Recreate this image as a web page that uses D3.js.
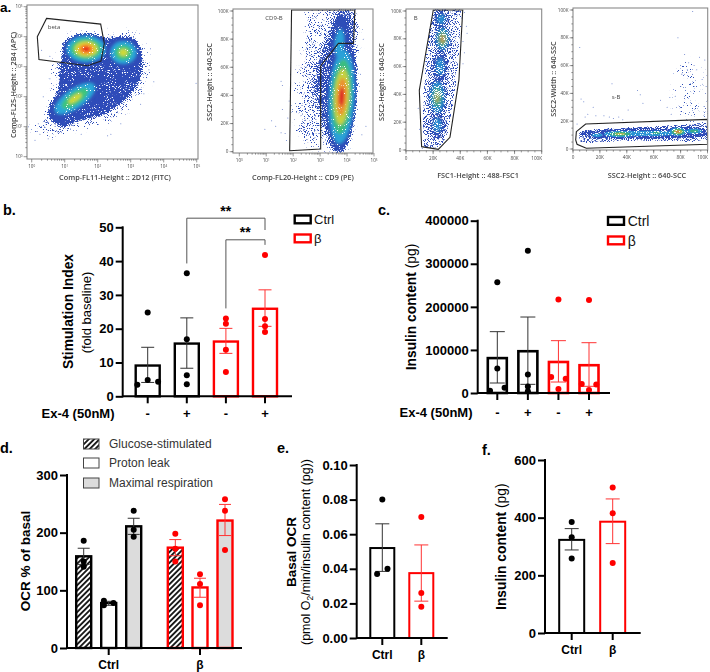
<!DOCTYPE html>
<html><head><meta charset="utf-8">
<script src="https://cdn.jsdelivr.net/npm/d3@7"></script>
<style>
html,body{margin:0;padding:0;background:#fff}
svg{display:block}
text{font-family:"Liberation Sans",Arial,sans-serif}
.flow text{font-family:"Open Sans",sans-serif;fill:#444}
</style></head><body>
<svg id="c" width="710" height="672"></svg>
<script>
// ---------- bar panel data ----------
const exLabels = ["-","+","-","+"];
const twoLabels = ["Ctrl","β"];
const groupColors4 = ["#000","#000","#f00","#f00"];

const bMeans = [9.1,15.6,16.2,25.9];
const bUpper = [14.5,23.2,20.1,31.5];
const bLower = [4.1,8.3,12.7,20.7];
const bPoints = [[24.8,4.8,3.4,4.3],[36.4,16.9,6.2,3.6],[23,21.5,13.8,7.2],[41.8,22.9,20.7,19]];
const bJitter = [[0,0,-.8,.8],[0,0,0,0],[0,0,0,0],[0,0,0,0]];

const cMeans = [81000,97000,72000,64500];
const cUpper = [142400,176400,121500,116800];
const cLower = [23200,20100,25500,15500];
const cPoints = [[257000,57000,12000,5000],[330000,43000,15000,4000],[217000,37000,33000,9000],[216000,21000,20000,7000]];
const cJitter = [[0,0,.75,-.75],[0,0,0,0],[0,-.75,.75,0],[0,-.75,.75,0]];

const dCategories = ["Ctrl","β"];
const dSeries = ["Glucose-stimulated","Proton leak","Maximal respiration"];
const dMeans = [159,78,211,174,105,221];
const dUpper = [173,81,225,188,121,249];
const dLower = [145,74,197,160,88,195];
const dPoints = [[186,150,141],[82,78,74],[238,205,193],[198,172,150],[128,111,74],[258,238,170]];
const dJitter = [[0,0,0],[-.6,.6,-.6],[0,0,0],[0,0,0],[0,0,0],[0,0,0]];

const eMeans = [.052,.0375];
const eUpper = [.066,.0538];
const eLower = [.0385,.0213];
const ePoints = [[.080,.040,.037],[.070,.026,.018]];
const eJitter = [[0,.65,-.65],[0,0,0]];

const fMeans = [323,386];
const fUpper = [362,465];
const fLower = [288,310];
const fPoints = [[385,332,258],[505,415,243]];

// ---------- flow panel data (decades of log axes / thousands on linear axes) ----------
const decades = [0,1,2,3,4,5];
const kTicks = [0,20,40,60,80,100];

const aGate = [[.45,4.61],[2.09,4.42],[2.2,3.78],[2.1,3.19],[1.69,3.03],[.22,3.24],[.17,4.0],[.3,4.28]];
const aFringe = [[.9,3.5],[1.05,4.0],[2.0,4.1],[3.15,4.1],[3.5,3.3],[3.5,2.4],[2.9,1.6],[2.2,1.05],[1.3,.95],[.7,.65],[0,.95],[.4,1.4],[.65,2.2],[.6,3.0]];
const aCloud = [[1.06,3.83],[2.07,3.94],[3.08,3.94],[3.33,3.33],[3.28,2.56],[2.83,1.89],[2.17,1.39],[1.46,1.22],[.96,1.0],[.61,1.22],[.56,1.67],[.81,2.22],[.86,3.0],[.96,3.56]];
const aBlobs = [
 {x:1.65,y:3.59,rx:.7,ry:.52,rot:0,peak:5},
 {x:2.78,y:3.47,rx:.52,ry:.5,rot:0,peak:3},
 {x:1.31,y:1.94,rx:.95,ry:.42,rot:-35,peak:3}];
const aSparse = [[-.1,1.0],[.25,.75],[.1,.55],[.5,.6],[3.6,3.6],[3.55,2.9],[3.4,2.1],[4.98,2.45],[2.3,.7],[2.4,.75],[1.5,.75],[.2,1.1],[.35,2.0],[.55,2.6],[3.7,2.5],[3.3,1.75],[2.7,1.1],[.3,3.55],[.55,3.35]];

const gateB = [[1.94,100.7],[1.87,.7],[3.02,1.9],[3.02,61],[3.68,77],[4.24,77],[4.29,100.7]];
const bFringe = [[2.55,100],[4.3,100],[4.45,77],[4.3,35],[4.05,5],[3.4,1],[2.6,5],[2.1,13],[2.05,37],[2.2,61],[2.5,85]];
const bCloud = [[3.6,100],[4.2,100],[4.28,77],[4.2,38],[3.95,8],[3.5,4],[3.05,22],[2.75,45],[2.95,65],[3.4,85]];
const bBlobs = [
 {x:3.8,y:39,rx:.56,ry:40,rot:3,peak:5},
 {x:3.72,y:77,rx:.34,ry:20,rot:5,peak:1}];
const bSparse = [[1.2,22],[1.35,18],[1.6,30],[1.7,13],[1.75,8],[1.6,47],[1.55,50],[.95,16],[1.55,13.5],[1.85,36],[1.9,55],[4.6,80],[4.7,18],[4.55,12],[4.5,55],[1.8,24]];

const gateC = [[20.1,100.7],[9.8,43],[11.5,2.4],[23.8,.5],[32.4,9.1],[39,50.4],[41.8,100.7]];
const cCloud = [[21.5,102],[14,60],[13,5],[23.8,2.4],[30,9.6],[37.3,50.4],[40,102]];
const cBlobs = [
 {x:27,y:80,rx:6,ry:10,rot:0,peak:4},
 {x:23,y:38,rx:7,ry:15,rot:0,peak:3},
 {x:25,y:60,rx:6,ry:12,rot:0,peak:1},
 {x:26,y:94,rx:6,ry:7,rot:0,peak:1},
 {x:23,y:18,rx:6,ry:10,rot:0,peak:1}];
const cSparse = [[43,99],[44.5,89],[45,84],[43,70],[42,62],[9,30],[10,15],[12,1],[41,95],[42,78]];

const gateD = [[2.5,12.5],[9.4,18],[100,21.3],[100,3.4],[9.9,.5],[3,3.4],[2,6.5]];
const dCloud = [[4.5,9.5],[12.4,14],[81.9,17.5],[100,18.5],[100,6],[44.7,6],[7.4,4.5]];
const dBlobs = [
 {x:55,y:11.2,rx:50,ry:3.8,rot:0,peak:1},
 {x:35,y:10.8,rx:16,ry:3.2,rot:0,peak:3},
 {x:62,y:11.5,rx:8,ry:2.8,rot:0,peak:2},
 {x:78,y:12.5,rx:8,ry:3.8,rot:0,peak:4},
 {x:90,y:12.8,rx:9,ry:3,rot:0,peak:2},
 {x:18,y:10,rx:8,ry:2.6,rot:0,peak:1}];
const dFringe = [[77,60],[92,62],[99,48],[100,22],[77,22]];
const dHigh = [[78,80],[89,99],[76,38],[81,54],[86,62],[83,68],[94,66],[98,64],[90,60],[80,60],[85,57],[92,57],[96,50],[99,45]];
const dSparse = [[5,73],[6,36],[8,34],[9,23],[11,25],[15,30],[17,24],[23,24],[27,23],[30,22],[34,23],[37,21],[41,28],[52,33],[48,42],[50,39],[29,47],[65,35],[70,30],[3,18],[72,37],[73,25]];

// ---------- scales & helpers ----------
const svg = d3.select("#c");
const defs = svg.append("defs");
const levels = ["#2f4db8","#2ba6da","#3cc47c","#cfd938","#f7962a","#e8201c"];
const blur = (id,s)=>defs.append("filter").attr("id",id).attr("filterUnits","userSpaceOnUse").attr("x",0).attr("y",0).attr("width",710).attr("height",200)
  .append("feGaussianBlur").attr("stdDeviation",s);
blur("b06",.7); blur("b15",1.5); blur("b03",.28); blur("b3",3); blur("b2",1.8);

// texture: thins a soft-edged density image into speckle
const spk = defs.append("filter").attr("id","speckle").attr("filterUnits","userSpaceOnUse").attr("x",0).attr("y",0).attr("width",710).attr("height",200).attr("color-interpolation-filters","sRGB");
spk.append("feTurbulence").attr("type","fractalNoise").attr("baseFrequency",1.05).attr("numOctaves",2).attr("seed",7).attr("result","n");
spk.append("feColorMatrix").attr("in","n").attr("type","matrix").attr("values","0 0 0 0 0  0 0 0 0 0  0 0 0 0 0  2 0 0 0 -.5").attr("result","na");
spk.append("feComposite").attr("in","SourceAlpha").attr("in2","na").attr("operator","arithmetic").attr("k1",0).attr("k2",1).attr("k3",1).attr("k4",-1).attr("result","sum");
const ct = spk.append("feComponentTransfer").attr("in","sum").attr("result","mask");
ct.append("feFuncA").attr("type","linear").attr("slope",7).attr("intercept",0);
const op = spk.append("feComponentTransfer").attr("in","SourceGraphic").attr("result","solid");
op.append("feFuncA").attr("type","linear").attr("slope",40).attr("intercept",0);
spk.append("feComposite").attr("in","solid").attr("in2","mask").attr("operator","in").attr("result","dots");
spk.append("feGaussianBlur").attr("in","dots").attr("stdDeviation",.42);

const hatch = defs.append("pattern").attr("id","hatch").attr("patternUnits","userSpaceOnUse").attr("width",3.8).attr("height",3.8).attr("patternTransform","rotate(-45)");
hatch.append("rect").attr("width",3.8).attr("height",3.8).attr("fill","#fff");
hatch.append("rect").attr("width",3.8).attr("height",1.9).attr("fill","#1a1a1a");

function flowPanel(o){
  const g = svg.append("g").attr("class","flow").attr("filter","url(#b03)");
  const clipId = "clip"+o.id;
  defs.append("clipPath").attr("id",clipId).append("rect").attr("x",o.rect[0]).attr("y",o.rect[1]).attr("width",o.rect[2]-o.rect[0]).attr("height",o.rect[3]-o.rect[1]);
  const X = o.X, Y = o.Y;
  const line = d3.line().x(d=>X(d[0])).y(d=>Y(d[1]));
  const smooth = line.curve(d3.curveCardinalClosed.tension(.3));
  const plot = g.append("g").attr("clip-path",`url(#${clipId})`);
  const dens = plot.append("g").attr("filter","url(#speckle)");
  if(o.fringe) dens.append("path").attr("d",smooth(o.fringe)).attr("fill",levels[0]).attr("opacity",o.fringeOp).attr("filter","url(#b3)");
  dens.append("path").attr("d",smooth(o.cloud)).attr("fill",levels[0]).attr("opacity",o.cloudOp).attr("filter",`url(#${o.cloudBlur})`);
  const hot = dens.append("g").attr("filter",`url(#${o.hotBlur||"b15"})`).attr("opacity",o.hotOp||1);
  levels.forEach((c,l)=>{
    o.blobs.filter(b=>b.peak>=l).forEach(b=>{
      const f = 1-l/(b.peak+1);
      const rx = Math.abs(X(b.x+b.rx)-X(b.x))*f, ry = Math.abs(Y(b.y+b.ry)-Y(b.y))*f;
      hot.append("ellipse").attr("cx",X(b.x)).attr("cy",Y(b.y)).attr("rx",rx).attr("ry",ry).attr("fill",c)
        .attr("transform",`rotate(${b.rot} ${X(b.x)} ${Y(b.y)})`);
    });
  });
  plot.selectAll("circle.s").data(o.sparse).join("circle").attr("class","s").attr("cx",d=>X(d[0])).attr("cy",d=>Y(d[1])).attr("r",.5).attr("fill","#5f78c8");
  // gate
  g.append("path").attr("d",line.curve(d3.curveLinearClosed)(o.gate)).attr("fill","none").attr("stroke","#222").attr("stroke-width",1.1).attr("clip-path",`url(#${clipId})`);
  // frame
  g.append("rect").attr("x",o.rect[0]).attr("y",o.rect[1]).attr("width",o.rect[2]-o.rect[0]).attr("height",o.rect[3]-o.rect[1]).attr("fill","none").attr("stroke","#8a8a8a").attr("stroke-width",1.1);
  // ticks and labels
  const tg = g.append("g").attr("stroke","#555").attr("stroke-width",.6);
  const bottom=o.rect[3], left=o.rect[0];
  o.xMinor.forEach(v=>tg.append("line").attr("x1",o.xAxis(v)).attr("x2",o.xAxis(v)).attr("y1",bottom).attr("y2",bottom+1.7));
  o.xMajor.forEach(v=>tg.append("line").attr("x1",o.xAxis(v)).attr("x2",o.xAxis(v)).attr("y1",bottom).attr("y2",bottom+3.4));
  o.yMinor.forEach(v=>tg.append("line").attr("y1",o.yAxis(v)).attr("y2",o.yAxis(v)).attr("x1",left).attr("x2",left-1.7));
  o.yMajor.forEach(v=>tg.append("line").attr("y1",o.yAxis(v)).attr("y2",o.yAxis(v)).attr("x1",left).attr("x2",left-3.4));
  const tickText=(sel,v,log)=>{
    if(log){ sel.text("10"); sel.append("tspan").attr("dy",-1.3).attr("font-size",3).text(Math.round(Math.log10(v))); }
    else sel.text(v===0?"0":(v+"K"));
  };
  o.xMajor.forEach(v=>{const t=g.append("text").attr("x",o.xAxis(v)-(!o.xLog&&v===100?5:0)).attr("y",bottom+9).attr("text-anchor","middle").attr("font-size",4.6);tickText(t,v,o.xLog);});
  o.yMajor.forEach(v=>{const t=g.append("text").attr("x",left-4.5).attr("y",o.yAxis(v)+1.6).attr("text-anchor","end").attr("font-size",4.6);tickText(t,v,o.yLog);});
  g.append("text").attr("x",o.xLabel[1]).attr("y",o.xLabel[2]).attr("text-anchor","middle").attr("font-size",7.3).attr("font-weight",600).text(o.xLabel[0]);
  g.append("text").attr("transform",`translate(${o.yLabel[1]},${o.yLabel[2]}) rotate(-90)`).attr("text-anchor","middle").attr("font-size",7.3).attr("font-weight",600).text(o.yLabel[0]);
  g.append("text").attr("x",o.tag[1]).attr("y",o.tag[2]).attr("text-anchor","middle").attr("font-size",6).attr("font-family","Liberation Sans").text(o.tag[0]);
}
const logMinor = ()=>{const a=[];for(let k=0;k<5;k++)for(let m=2;m<10;m++)a.push(m*10**k);return a;};
const linMinor = d3.range(0,101,5);
const logMajor = decades.map(d=>10**d);

// panel a.1
{ const xl=d3.scaleLog().domain([1,1e5]).range([31.7,196.7]), yl=d3.scaleLog().domain([1,1e5]).range([156.7,6.7]);
  flowPanel({id:"a",X:v=>xl(10**v),Y:v=>yl(10**v),rect:[27,5,198,159],gate:aGate,fringe:aFringe,fringeOp:.3,cloud:aCloud,cloudOp:.85,cloudBlur:"b2",blobs:aBlobs,sparse:aSparse,
    xAxis:xl,yAxis:yl,xLog:true,yLog:true,xMajor:logMajor,yMajor:logMajor,xMinor:logMinor(),yMinor:logMinor(),
    xLabel:["Comp-FL11-Height :: 2D12 (FITC)",115,180],yLabel:["Comp-FL25-Height :: 2B4 (APC)",16,85],tag:["beta",54,29]});
}
// panel a.2
{ const xl=d3.scaleLog().domain([1,1e5]).range([239.3,374]), yk=d3.scaleLinear().domain([0,100]).range([151.7,11]);
  flowPanel({id:"b",X:v=>xl(10**v),Y:yk,rect:[233,9,373,153],gate:gateB,fringe:bFringe,fringeOp:.34,cloud:bCloud,cloudOp:.6,cloudBlur:"b3",blobs:bBlobs,sparse:bSparse,hotBlur:"b15",hotOp:.92,
    xAxis:xl,yAxis:yk,xLog:true,yLog:false,xMajor:logMajor,yMajor:kTicks,xMinor:logMinor(),yMinor:linMinor,
    xLabel:["Comp-FL20-Height :: CD9 (PE)",303,180],yLabel:["SSC2-Height :: 640-SSC",212,82],tag:["CD9-B",274,20]});
}
// panel a.3
{ const xk=d3.scaleLinear().domain([0,100]).range([406,541.7]), yk=d3.scaleLinear().domain([0,100]).range([150,11]);
  flowPanel({id:"c",X:xk,Y:yk,rect:[406,9,541.7,150.7],gate:gateC,cloud:cCloud,cloudOp:.42,cloudBlur:"b06",blobs:cBlobs,sparse:cSparse,hotBlur:"b15",hotOp:.5,
    xAxis:xk,yAxis:yk,xLog:false,yLog:false,xMajor:kTicks,yMajor:kTicks,xMinor:linMinor,yMinor:linMinor,
    xLabel:["FSC1-Height :: 488-FSC1",478,178],yLabel:["SSC2-Height :: 640-SSC",384,82],tag:["B",415.7,20]});
}
// panel a.4
{ const xk=d3.scaleLinear().domain([0,100]).range([573,707.5]), yk=d3.scaleLinear().domain([0,100]).range([149,10]);
  flowPanel({id:"d",X:xk,Y:yk,rect:[573,8,707.7,150],gate:gateD,fringe:dFringe,fringeOp:.18,cloud:dCloud,cloudOp:.5,cloudBlur:"b06",blobs:dBlobs,sparse:dHigh.concat(dSparse),hotBlur:"b06",hotOp:.65,
    xAxis:xk,yAxis:yk,xLog:false,yLog:false,xMajor:kTicks,yMajor:kTicks,xMinor:linMinor,yMinor:linMinor,
    xLabel:["SSC2-Height :: 640-SCC",647,178],yLabel:["SSC2-Width :: 640-SSC",556,79],tag:["s-B",616,99]});
}

// ---------- bar panels ----------
function yAxisDraw(g,y,x0,ticks,fmt){
  const ax=d3.axisLeft(y).tickValues(ticks).tickFormat(fmt).tickSize(7).tickPadding(2);
  const a=g.append("g").attr("transform",`translate(${x0},0)`).call(ax);
  a.select(".domain").attr("stroke","#000").attr("stroke-width",2).attr("d",`M0,${y.range()[0]+1}V${y.range()[1]-1}`);
  a.selectAll(".tick line").attr("stroke","#000").attr("stroke-width",2);
  a.selectAll("text").attr("font-size",13).attr("font-weight","bold").attr("fill","#000").attr("font-family","Liberation Sans");
}
function xAxisDraw(g,x,y0,x0,x1,cats){
  g.append("line").attr("x1",x0).attr("x2",x1).attr("y1",y0).attr("y2",y0).attr("stroke","#000").attr("stroke-width",2);
  cats.forEach(c=>g.append("line").attr("x1",c).attr("x2",c).attr("y1",y0).attr("y2",y0+7).attr("stroke","#000").attr("stroke-width",2));
}
function bars(g,y,xs,w,means,upper,lower,points,jitter,colors,sw,opts={}){
  const y0=y(0);
  means.forEach((m,i)=>{
    g.append("rect").attr("x",xs[i]-w/2).attr("y",y(m)).attr("width",w).attr("height",y0-y(m))
      .attr("fill",opts.fills?opts.fills[i]:"#fff").attr("stroke",colors[i]).attr("stroke-width",sw);
  });
  means.forEach((m,i)=>{
    const cap=opts.cap||7, c=colors[i];
    g.append("path").attr("d",`M${xs[i]},${y(upper[i])}V${y(lower[i])}M${xs[i]-cap},${y(upper[i])}H${xs[i]+cap}M${xs[i]-cap},${y(lower[i])}H${xs[i]+cap}`)
      .attr("fill","none").attr("stroke",c==="#000"?"#333":"#f33").attr("stroke-width",1);
    points[i].forEach((p,k)=>{
      g.append("circle").attr("cx",xs[i]+(jitter?jitter[i][k]:0)*(opts.jw||w/2)).attr("cy",y(p)).attr("r",3).attr("fill",c);
    });
  });
}
const label=(g,t,x,y,size,weight,anchor="middle",fill="#000")=>g.append("text").attr("x",x).attr("y",y).attr("font-size",size).attr("font-weight",weight).attr("text-anchor",anchor).attr("fill",fill).text(t);
const vlabel=(g,x,y,size)=>g.append("text").attr("transform",`translate(${x},${y}) rotate(-90)`).attr("text-anchor","middle").attr("font-size",size).attr("fill","#000");
function legend(g,x,y1,y2,tx,ty1,ty2,size){
  [["#000",y1,"Ctrl",ty1],["#f00",y2,"β",ty2]].forEach(([c,yy,t,ty])=>{
    g.append("rect").attr("x",x).attr("y",yy).attr("width",16).attr("height",7.8).attr("fill","#fff").attr("stroke",c).attr("stroke-width",2.4);
    label(g,t,tx,ty,size,"normal","start","#111");
  });
}
const root=svg.append("g");

// panel labels
[["a.",0,12,13.5],["b.",3,215,14.5],["c.",378,215,14.5],["d.",0,453,14.5],["e.",277,453,14.5],["f.",482,455,14.5]].forEach(d=>label(root,d[0],d[1],d[2],d[3],"bold","start"));

// panel b
{ const g=root.append("g"), y=d3.scaleLinear().domain([0,50]).range([396.3,227.3]);
  const xs=d3.scalePoint().domain(d3.range(4)).range([147.7,265]);
  const cx=d3.range(4).map(xs);
  bars(g,y,cx,24,bMeans,bUpper,bLower,bPoints,bJitter,groupColors4,2.4,{cap:6.5,jw:13});
  xAxisDraw(g,null,y(0),122,292,cx);
  yAxisDraw(g,y,122.7,[0,10,20,30,40,50],d3.format("d"));
  const vl=vlabel(g,72.5,311.5,13.8); vl.attr("font-weight","bold").text("Stimulation Index");
  vlabel(g,90.5,312.5,13).text("(fold baseline)");
  label(g,"Ex-4 (50nM)",78,418,13,"bold");
  exLabels.forEach((t,i)=>label(g,t,cx[i],418,13,"bold"));
  const brk=(i,j,top,a,b)=>g.append("path").attr("d",`M${cx[i]},${y(a)}V${y(top)}H${cx[j]}V${y(b)}`).attr("fill","none").attr("stroke","#555").attr("stroke-width",1);
  brk(1,3,52.7,39.3,49.2);
  brk(2,3,46.3,26,44.8);
  label(g,"**",225.7,215.5,14,"bold");
  label(g,"**",245.3,236.5,14,"bold");
  legend(g,294.7,215.5,234.5,314,224,243,13);
}
// panel c
{ const g=root.append("g"), y=d3.scaleLinear().domain([0,400000]).range([393,220.7]);
  const xs=d3.scalePoint().domain(d3.range(4)).range([497.3,589]);
  const cx=d3.range(4).map(xs);
  bars(g,y,cx,19,cMeans,cUpper,cLower,cPoints,cJitter,groupColors4,2.6,{cap:7.5,jw:9.7});
  xAxisDraw(g,null,y(0),477,610,cx);
  yAxisDraw(g,y,477.7,[0,100000,200000,300000,400000],d3.format("d"));
  const t=vlabel(g,416,307,13.8);
  t.append("tspan").attr("font-weight","bold").text("Insulin content ");
  t.append("tspan").text("(pg)");
  label(g,"Ex-4 (50nM)",436,417,13,"bold");
  exLabels.forEach((t,i)=>label(g,t,cx[i],417,13,"bold"));
  legend(g,608,217,236.5,627.7,226,246,14);
}
// panel d
{ const g=root.append("g"), y=d3.scaleLinear().domain([0,300]).range([648,475]);
  const cx=[83.7,108.7,133.7,175.3,200,225];
  const fills=["url(#hatch)","#fff","#dcdcdc","url(#hatch)","#fff","#dcdcdc"];
  const cols=["#000","#000","#000","#f00","#f00","#f00"];
  bars(g,y,cx,15,dMeans,dUpper,dLower,dPoints,dJitter,cols,2.4,{fills,cap:6,jw:8});
  xAxisDraw(g,null,y(0),67,242,[108.7,200]);
  yAxisDraw(g,y,67,[0,100,200,300],d3.format("d"));
  vlabel(g,30,561,13.5).attr("font-weight","bold").text("OCR % of basal");
  dCategories.forEach((c,i)=>label(g,c,[108.7,200][i],669,12,"bold"));
  dSeries.forEach((s,i)=>{
    const yy=[439,458,478][i];
    g.append("rect").attr("x",83.5).attr("y",yy).attr("width",15.5).attr("height",10).attr("fill",["url(#hatch)","#fff","#dcdcdc"][i]).attr("stroke","#444").attr("stroke-width",1);
    label(g,s,109,yy+9,12,"normal","start","#333");
  });
}
// panel e
{ const g=root.append("g"), y=d3.scaleLinear().domain([0,.1]).range([638,465]);
  const cx=[382.3,421.3];
  bars(g,y,cx,24,eMeans,eUpper,eLower,ePoints,eJitter,["#000","#f00"],2,{cap:7,jw:8});
  xAxisDraw(g,null,y(0),356,447.7,cx);
  yAxisDraw(g,y,356.7,[0,.02,.04,.06,.08,.1],d3.format(".2f"));
  vlabel(g,296,552,13.5).attr("font-weight","bold").text("Basal OCR");
  const t=vlabel(g,310,552,12.5);
  t.append("tspan").text("(pmol O");
  t.append("tspan").attr("font-size",8.5).attr("dy",2.5).text("2");
  t.append("tspan").attr("dy",-2.5).text("/min/insulin content (pg))");
  twoLabels.forEach((c,i)=>label(g,c,cx[i],659,12,"bold"));
}
// panel f
{ const g=root.append("g"), y=d3.scaleLinear().domain([0,600]).range([633,460]);
  const cx=[571.7,612.7];
  bars(g,y,cx,25,fMeans,fUpper,fLower,fPoints,null,["#000","#f00"],2,{cap:7});
  xAxisDraw(g,null,y(0),545,640.7,cx);
  yAxisDraw(g,y,545,[0,200,400,600],d3.format("d"));
  const t=vlabel(g,506,546.7,13.8);
  t.append("tspan").attr("font-weight","bold").text("Insulin content ");
  t.append("tspan").text("(pg)");
  twoLabels.forEach((c,i)=>label(g,c,cx[i],654,12,"bold"));
}
</script></body></html>
